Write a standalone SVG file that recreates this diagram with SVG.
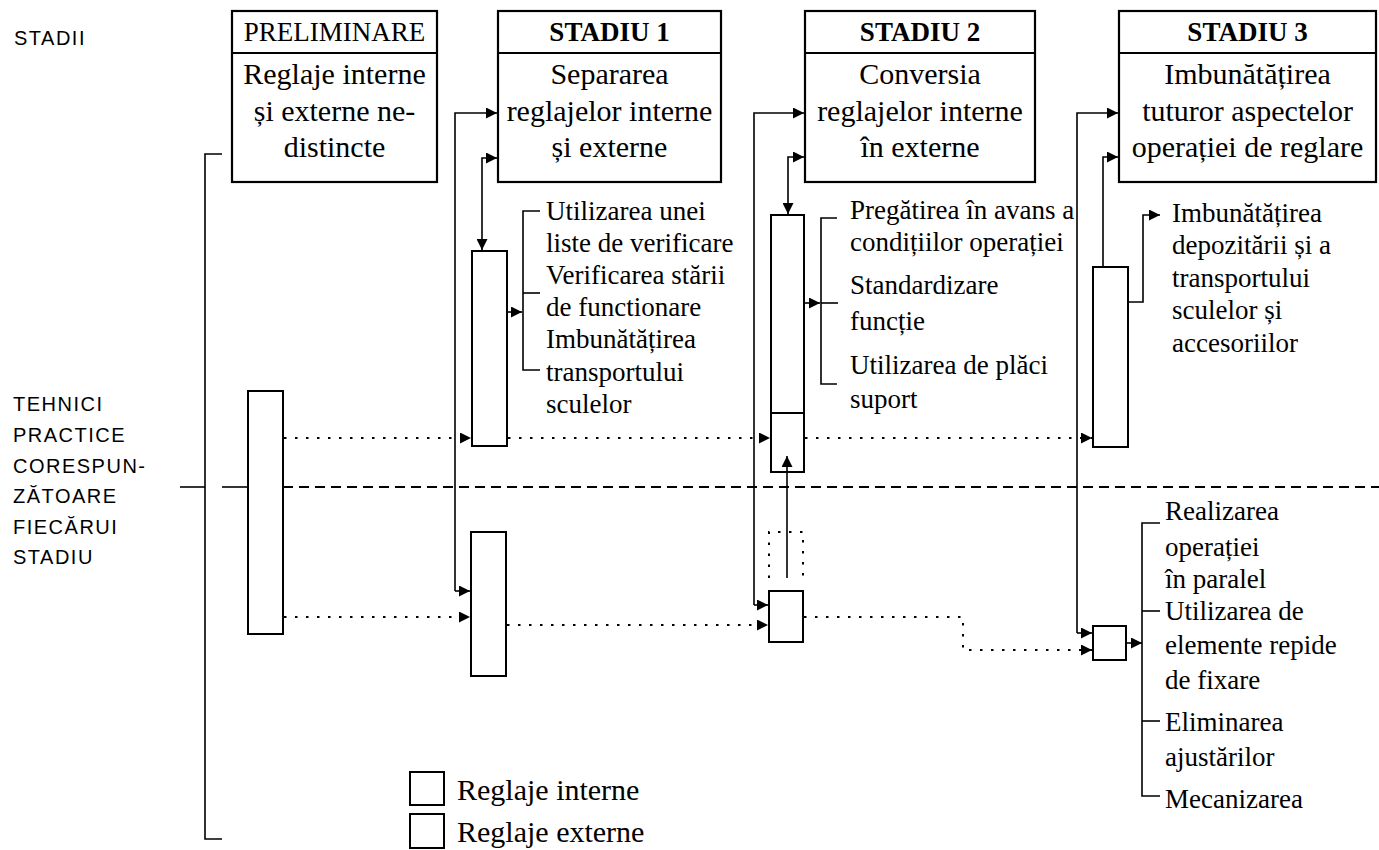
<svg xmlns="http://www.w3.org/2000/svg" width="1379" height="850" viewBox="0 0 1379 850">
  <style>
    .box { fill: #fff; stroke: #000; stroke-width: 2.2; }
    .bar { fill: #fff; stroke: #000; stroke-width: 2; }
    .ln { fill: none; stroke: #000; stroke-width: 1.6; }
    .dot { fill: none; stroke: #000; stroke-width: 2; stroke-dasharray: 2.5 8.5; }
    .dash { fill: none; stroke: #000; stroke-width: 1.8; stroke-dasharray: 10 6; }
    .hd { font-family: "Liberation Serif", "Times New Roman", serif; font-size: 27px; text-anchor: middle; fill: #000; }
    .hdb { font-weight: bold; }
    .bd { font-family: "Liberation Serif", "Times New Roman", serif; font-size: 30px; text-anchor: middle; fill: #000; }
    .ls { font-family: "Liberation Serif", "Times New Roman", serif; font-size: 27px; fill: #000; }
    .side { font-family: "Liberation Sans", Arial, sans-serif; font-size: 20px; letter-spacing: 1.5px; fill: #000; }
  </style>
  <defs>
    <marker id="arr" viewBox="0 0 10 10" refX="10" refY="5" markerWidth="11" markerHeight="11" markerUnits="userSpaceOnUse" orient="auto-start-reverse">
      <path d="M0,0 L10,5 L0,10 z" fill="#000"/>
    </marker>
  </defs>

  <!-- row labels -->
  <g id="label-stadii">
    <text class="side" x="14" y="45">STADII</text>
  </g>
  <g id="label-tehnici">
    <text class="side" x="13" y="411">TEHNICI</text>
    <text class="side" x="13" y="442">PRACTICE</text>
    <text class="side" x="13" y="473">CORESPUN-</text>
    <text class="side" x="13" y="503">ZĂTOARE</text>
    <text class="side" x="13" y="534">FIECĂRUI</text>
    <text class="side" x="13" y="564">STADIU</text>
  </g>

  <!-- connectors -->
  <g id="connectors">
    <!-- left bracket and separator -->
    <path class="ln" d="M222,154 L205,154 L205,839 L222,839"/>
    <path class="ln" d="M180,487 L205,487"/>
    <path class="ln" d="M222,487 L248,487"/>
    <path class="dash" d="M283,487 L1379,487"/>

    <!-- dotted flows of external setup -->
    <path class="dot" d="M284,438 L471,438" marker-end="url(#arr)"/>
    <path class="dot" d="M508,438 L770,438" marker-end="url(#arr)"/>
    <path class="dot" d="M805,438 L1092,438" marker-end="url(#arr)"/>
    <path class="dot" d="M284,617 L470,617" marker-end="url(#arr)"/>
    <path class="dot" d="M507,625 L768,625" marker-end="url(#arr)"/>
    <path class="dot" d="M804,617 L963,617 L963,650 L1092,650" marker-end="url(#arr)"/>

    <!-- stage 1 -->
    <path class="ln" d="M455,591 L455,113 L497,113" marker-end="url(#arr)"/>
    <path class="ln" d="M455,591 L470,591" marker-end="url(#arr)"/>
    <path class="ln" d="M482,250 L482,158 L497,158" marker-start="url(#arr)" marker-end="url(#arr)"/>
    <path class="ln" d="M507,312 L522,312" marker-end="url(#arr)"/>
    <path class="ln" d="M540,211 L523,211 L523,370 L540,370"/>
    <path class="ln" d="M523,293 L540,293"/>

    <!-- stage 2 -->
    <path class="ln" d="M754,605 L754,113 L804,113" marker-end="url(#arr)"/>
    <path class="ln" d="M754,605 L768,605" marker-end="url(#arr)"/>
    <path class="ln" d="M788,214 L788,157 L804,157" marker-start="url(#arr)" marker-end="url(#arr)"/>
    <path class="ln" d="M804,303 L820,303" marker-end="url(#arr)"/>
    <path class="ln" d="M837,218 L821,218 L821,384 L837,384"/>
    <path class="ln" d="M821,303 L838,303"/>

    <!-- stage 3 -->
    <path class="ln" d="M1077,633 L1077,113 L1118,113" marker-end="url(#arr)"/>
    <path class="ln" d="M1077,633 L1092,633" marker-end="url(#arr)"/>
    <path class="ln" d="M1103,267 L1103,157 L1118,157" marker-end="url(#arr)"/>
    <path class="ln" d="M1128,302 L1143,302 L1143,215 L1160,215" marker-end="url(#arr)"/>
    <path class="ln" d="M1126,643 L1142,643" marker-end="url(#arr)"/>
    <path class="ln" d="M1160,523 L1142,523 L1142,796 L1160,796"/>
    <path class="ln" d="M1142,611 L1160,611"/>
    <path class="ln" d="M1142,721 L1160,721"/>
  </g>

  <!-- stage headers -->
  <g id="stage-preliminare">
    <rect class="box" x="232" y="11" width="205" height="171"/>
    <line class="ln" x1="232" y1="53" x2="437" y2="53" style="stroke-width:2"/>
    <text class="hd" x="334.5" y="41">PRELIMINARE</text>
    <text class="bd" x="334.5" y="84">Reglaje interne</text>
    <text class="bd" x="334.5" y="121">și externe ne-</text>
    <text class="bd" x="334.5" y="157">distincte</text>
  </g>
  <g id="stage-1">
    <rect class="box" x="498" y="11" width="223" height="171"/>
    <line class="ln" x1="498" y1="53" x2="721" y2="53" style="stroke-width:2"/>
    <text class="hd hdb" x="609.5" y="41">STADIU 1</text>
    <text class="bd" x="609.5" y="84">Separarea</text>
    <text class="bd" x="609.5" y="121">reglajelor interne</text>
    <text class="bd" x="609.5" y="157">și externe</text>
  </g>
  <g id="stage-2">
    <rect class="box" x="805" y="11" width="230" height="171"/>
    <line class="ln" x1="805" y1="53" x2="1035" y2="53" style="stroke-width:2"/>
    <text class="hd hdb" x="920" y="41">STADIU 2</text>
    <text class="bd" x="920" y="84">Conversia</text>
    <text class="bd" x="920" y="121">reglajelor interne</text>
    <text class="bd" x="920" y="157">în externe</text>
  </g>
  <g id="stage-3">
    <rect class="box" x="1119" y="11" width="257" height="171"/>
    <line class="ln" x1="1119" y1="53" x2="1376" y2="53" style="stroke-width:2"/>
    <text class="hd hdb" x="1247.5" y="41">STADIU 3</text>
    <text class="bd" x="1247.5" y="84">Imbunătățirea</text>
    <text class="bd" x="1247.5" y="121">tuturor aspectelor</text>
    <text class="bd" x="1247.5" y="157">operației de reglare</text>
  </g>

  <!-- setup bars -->
  <g id="bar-preliminare">
    <rect class="bar" x="248" y="391" width="35" height="243"/>
  </g>
  <g id="bar-1-internal">
    <rect class="bar" x="472" y="251" width="35" height="195"/>
  </g>
  <g id="bar-1-external">
    <rect class="bar" x="471" y="532" width="35" height="144"/>
  </g>
  <g id="bar-2-internal">
    <rect class="bar" x="771" y="215" width="33" height="257"/>
    <line class="ln" x1="771" y1="413" x2="804" y2="413" style="stroke-width:2"/>
  </g>
  <g id="bar-2-moved">
    <path class="dot" d="M769,578 L769,532 L803,532 L803,578"/>
  </g>
  <g id="bar-2-external">
    <rect class="bar" x="769" y="591" width="34" height="51"/>
  </g>
  <g id="bar-3-internal">
    <rect class="bar" x="1093" y="267" width="35" height="180"/>
  </g>
  <g id="bar-3-external">
    <rect class="bar" x="1093" y="626" width="33" height="34"/>
  </g>

  <!-- conversion of internal setup into external: drawn over the bars -->
  <g id="connector-conversion">
    <path class="ln" d="M787,578 L787,456" marker-end="url(#arr)"/>
  </g>

  <!-- technique lists -->
  <g id="techniques-1">
    <text class="ls" x="546" y="220">Utilizarea unei</text>
    <text class="ls" x="546" y="252">liste de verificare</text>
    <text class="ls" x="546" y="284">Verificarea stării</text>
    <text class="ls" x="546" y="316">de functionare</text>
    <text class="ls" x="546" y="348">Imbunătățirea</text>
    <text class="ls" x="546" y="381">transportului</text>
    <text class="ls" x="546" y="413">sculelor</text>
  </g>
  <g id="techniques-2">
    <text class="ls" x="850" y="219">Pregătirea în avans a</text>
    <text class="ls" x="850" y="251">condițiilor operației</text>
    <text class="ls" x="850" y="294">Standardizare</text>
    <text class="ls" x="850" y="330">funcție</text>
    <text class="ls" x="850" y="374">Utilizarea de plăci</text>
    <text class="ls" x="850" y="408">suport</text>
  </g>
  <g id="techniques-3-internal">
    <text class="ls" x="1172" y="222">Imbunătățirea</text>
    <text class="ls" x="1172" y="254">depozitării și a</text>
    <text class="ls" x="1172" y="287">transportului</text>
    <text class="ls" x="1172" y="319">sculelor și</text>
    <text class="ls" x="1172" y="352">accesoriilor</text>
  </g>
  <g id="techniques-3-external">
    <text class="ls" x="1165" y="520">Realizarea</text>
    <text class="ls" x="1165" y="556">operației</text>
    <text class="ls" x="1165" y="588">în paralel</text>
    <text class="ls" x="1165" y="620">Utilizarea de</text>
    <text class="ls" x="1165" y="654">elemente repide</text>
    <text class="ls" x="1165" y="689">de fixare</text>
    <text class="ls" x="1165" y="731">Eliminarea</text>
    <text class="ls" x="1165" y="766">ajustărilor</text>
    <text class="ls" x="1165" y="808">Mecanizarea</text>
  </g>

  <!-- legend -->
  <g id="legend">
    <rect class="bar" x="410" y="772" width="34" height="33"/>
    <rect class="bar" x="410" y="814" width="34" height="34"/>
    <text class="bd" x="457" y="800" style="text-anchor:start">Reglaje interne</text>
    <text class="bd" x="457" y="842" style="text-anchor:start">Reglaje externe</text>
  </g>
</svg>
